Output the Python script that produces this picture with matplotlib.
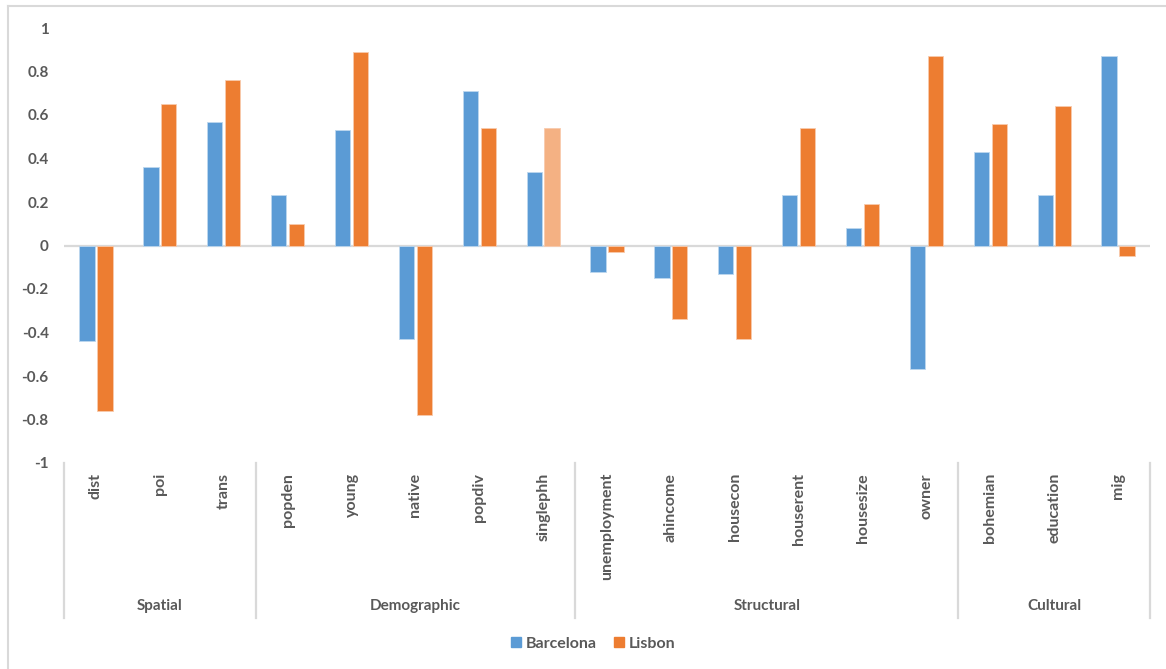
import numpy as np
import matplotlib
matplotlib.use("Agg")
import matplotlib.pyplot as plt
from matplotlib.patches import Patch

# indicator names grouped by dimension
groups = ["Spatial", "Demographic", "Structural", "Cultural"]
group_sizes = [3, 5, 6, 3]
indicators = ["dist", "poi", "trans",
              "popden", "young", "native", "popdiv", "singlephh",
              "unemployment", "ahincome", "housecon", "houserent", "housesize", "owner",
              "bohemian", "education", "mig"]

barcelona = [-0.44, 0.36, 0.57,
             0.23, 0.53, -0.43, 0.71, 0.34,
             -0.12, -0.15, -0.13, 0.23, 0.08, -0.57,
             0.43, 0.23, 0.87]
lisbon = [-0.76, 0.65, 0.76,
          0.10, 0.89, -0.78, 0.54, 0.54,
          -0.03, -0.34, -0.43, 0.54, 0.19, 0.87,
          0.56, 0.64, -0.05]

BLUE = "#5B9BD5"
ORANGE = "#ED7D31"
LIGHT_ORANGE = "#F4B183"
GRID = "#D9D9D9"
TEXT = "#595959"

plt.rcParams["font.family"] = ["Lato", "DejaVu Sans"]

fig = plt.figure(figsize=(11.66, 6.69), dpi=100)
ax = fig.add_axes([64 / 1166, 1 - 463 / 669, (1150 - 64) / 1166, 435 / 669])

x = np.arange(len(indicators))
w = 0.24
lis_colors = [LIGHT_ORANGE if name == "singlephh" else ORANGE for name in indicators]
ax.bar(x - 0.14, barcelona, width=w, color=BLUE, edgecolor="#BDD7EE", linewidth=0.6, zorder=3)
ax.bar(x + 0.14, lisbon, width=w, color=lis_colors, edgecolor="#F8CBAD", linewidth=0.6, zorder=3)

ax.set_xlim(-0.5, len(indicators) - 0.5)
ax.set_ylim(-1, 1)
ax.axhline(0, color=GRID, linewidth=1.6, zorder=2)
for s in ax.spines.values():
    s.set_visible(False)

yt = np.round(np.arange(-1, 1.01, 0.2), 1)
ax.set_yticks(yt)
ax.set_yticklabels(["0" if v == 0 else f"{v:g}" for v in yt])
ax.tick_params(axis="y", length=0, pad=11, labelcolor=TEXT, labelsize=11)
for lab in ax.get_yticklabels():
    lab.set_fontweight("bold")
ax.set_xticks([])

# two-level category axis below the plot
trans = ax.get_xaxis_transform()
for i, name in enumerate(indicators):
    ax.text(i, -0.023, name, transform=trans, rotation=90, ha="center", va="top",
            fontsize=11.5, color=TEXT, fontweight="bold")

edges = np.concatenate([[0], np.cumsum(group_sizes)]) - 0.5
for e in edges:
    ax.plot([e, e], [0, -0.356], transform=trans, color=GRID, linewidth=1.6, clip_on=False)
for g, a, b in zip(groups, edges[:-1], edges[1:]):
    ax.text((a + b) / 2, -0.329, g, transform=trans, ha="center", va="center",
            fontsize=11, color=TEXT, fontweight="bold")

handles = [Patch(color=BLUE, label="Barcelona"), Patch(color=ORANGE, label="Lisbon")]
fig.legend(handles=handles, loc="center", bbox_to_anchor=(593 / 1166, 1 - 644 / 669), ncol=2,
           frameon=False, handlelength=0.6, handleheight=0.6, handletextpad=0.3,
           columnspacing=1.1, labelcolor=TEXT,
           prop={"size": 11.5, "weight": "bold"})

# chart frame (left and top edges)
fig.add_artist(plt.Line2D([8 / 1166, 8 / 1166], [0, 1 - 6 / 669], color=GRID, linewidth=1.5))
fig.add_artist(plt.Line2D([8 / 1166, 1], [1 - 6 / 669, 1 - 6 / 669], color=GRID, linewidth=1.5))

fig.savefig("out.png", dpi=100, facecolor="white")
